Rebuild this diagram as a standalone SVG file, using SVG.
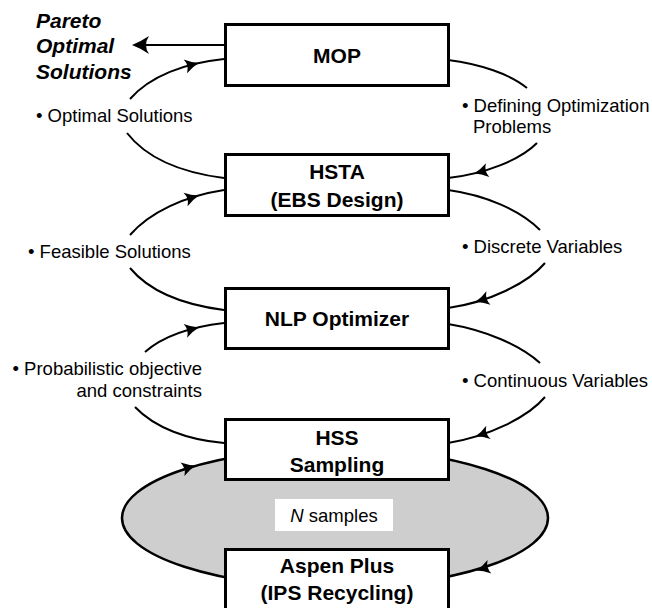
<svg xmlns="http://www.w3.org/2000/svg" xmlns:xlink="http://www.w3.org/1999/xlink" width="652" height="608" viewBox="0 0 652 608">
  <style>
    .box { fill: #ffffff; stroke: #000000; stroke-width: 3; }
    .title { font-family: "Liberation Sans", Arial, sans-serif; font-weight: bold; font-size: 21px; fill: #000000; text-anchor: middle; }
    .label { font-family: "Liberation Sans", Arial, sans-serif; font-size: 18.5px; fill: #000000; }
    .pareto { font-family: "Liberation Sans", Arial, sans-serif; font-weight: bold; font-style: italic; font-size: 21px; fill: #000000; }
    .wire { fill: none; stroke: #000000; stroke-width: 2; }
    .loop { fill: #cecece; stroke: #000000; stroke-width: 2.5; }
    .head { fill: #000000; }
  </style>
  <defs>
    <!-- swept arrowhead, tip at origin, pointing along +x -->
    <path id="head" d="M2,0 Q-5,-2 -12,-7 Q-8,0 -12,7 Q-5,2 2,0 Z"/>
    <path id="bighead" d="M0,0 Q8,-3 17,-9 Q11,0 17,9 Q8,3 0,0 Z"/>
  </defs>

  <rect width="652" height="608" fill="#ffffff"/>

  <!-- output of the multi-objective layer -->
  <g id="pareto-label">
    <text class="pareto" x="36" y="28">Pareto</text>
    <text class="pareto" x="36" y="53">Optimal</text>
    <text class="pareto" x="36" y="79">Solutions</text>
  </g>

  <g id="connectors">
    <!-- sampling loop between HSS and Aspen Plus -->
    <ellipse class="loop" cx="335" cy="518" rx="213" ry="69"/>
    <use xlink:href="#head" class="head" transform="translate(194,466) rotate(-16)"/>
    <use xlink:href="#head" class="head" transform="translate(478,570) rotate(164)"/>
    <rect x="275" y="499" width="118" height="32" fill="#ffffff"/>
    <text class="label" x="334" y="522" text-anchor="middle"><tspan font-style="italic">N</tspan> samples</text>

    <!-- MOP -> Pareto optimal solutions -->
    <line class="wire" x1="225" y1="45" x2="140" y2="45"/>
    <use xlink:href="#bighead" class="head" transform="translate(132,45)"/>

    <!-- left side: results passed upward -->
    <path class="wire" d="M130,99 C150,76 185,63 224,59"/>
    <use xlink:href="#head" class="head" transform="translate(197,63.5) rotate(-14)"/>
    <path class="wire" d="M127,133 C148,160 185,173 224,178"/>

    <path class="wire" d="M130,235 C150,212 185,196 224,190"/>
    <use xlink:href="#head" class="head" transform="translate(197,196) rotate(-17)"/>
    <path class="wire" d="M130,268 C150,292 185,305 224,310"/>

    <path class="wire" d="M145,352 C163,336 190,327 224,323"/>
    <use xlink:href="#head" class="head" transform="translate(197,328) rotate(-14)"/>
    <path class="wire" d="M135,407 C155,428 188,440 224,443"/>

    <!-- right side: decisions passed downward -->
    <path class="wire" d="M448,60 C480,64 510,74 527,88"/>
    <path class="wire" d="M537,143 C520,160 485,174 448,178"/>
    <use xlink:href="#head" class="head" transform="translate(476,173) rotate(166)"/>

    <path class="wire" d="M448,190 C485,195 520,210 540,230"/>
    <path class="wire" d="M545,263 C528,283 490,302 448,308"/>
    <use xlink:href="#head" class="head" transform="translate(477,301.5) rotate(163)"/>

    <path class="wire" d="M448,324 C485,330 520,345 540,363"/>
    <path class="wire" d="M545,397 C528,417 490,436 448,443"/>
    <use xlink:href="#head" class="head" transform="translate(477,436) rotate(162)"/>

    <!-- connector labels -->
    <text class="label" x="36" y="122">• Optimal Solutions</text>
    <text class="label" x="28" y="258">• Feasible Solutions</text>
    <text class="label" x="202" y="375" text-anchor="end">• Probabilistic objective</text>
    <text class="label" x="202" y="397" text-anchor="end">and constraints</text>
    <text class="label" x="462" y="112">• Defining Optimization</text>
    <text class="label" x="473" y="133">Problems</text>
    <text class="label" x="462" y="253">• Discrete Variables</text>
    <text class="label" x="462" y="387">• Continuous Variables</text>
  </g>

  <g id="mop">
    <rect class="box" x="225.5" y="24.5" width="223" height="61"/>
    <text class="title" x="337" y="63">MOP</text>
  </g>

  <g id="hsta">
    <rect class="box" x="225.5" y="154.5" width="223" height="61"/>
    <text class="title" x="337" y="179">HSTA</text>
    <text class="title" x="337" y="207">(EBS Design)</text>
  </g>

  <g id="nlp">
    <rect class="box" x="225.5" y="288.5" width="223" height="60"/>
    <text class="title" x="337" y="326">NLP Optimizer</text>
  </g>

  <g id="hss">
    <rect class="box" x="225.5" y="419.5" width="223" height="60"/>
    <text class="title" x="337" y="445">HSS</text>
    <text class="title" x="337" y="472">Sampling</text>
  </g>

  <g id="aspen">
    <rect class="box" x="225.5" y="549.5" width="223" height="64"/>
    <text class="title" x="337" y="573">Aspen Plus</text>
    <text class="title" x="337" y="600">(IPS Recycling)</text>
  </g>
</svg>
